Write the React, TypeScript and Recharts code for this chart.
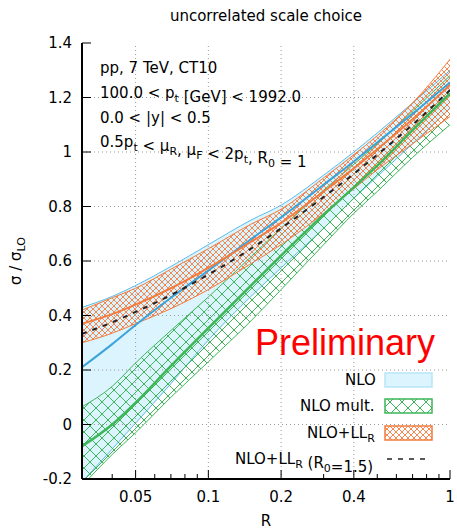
import React from 'react';
import { ComposedChart, Area, Line, XAxis, YAxis, ReferenceLine } from 'recharts';

// jet radius R (log axis)
const rValues = [0.03, 0.04, 0.05, 0.07, 0.1, 0.15, 0.2, 0.3, 0.4, 0.5, 0.7, 1.0];

// NLO
const nloLow = [-0.21, -0.09, 0.005, 0.15, 0.31, 0.47, 0.575, 0.72, 0.83, 0.91, 1.03, 1.16];
const nloCentral = [0.21, 0.295, 0.365, 0.465, 0.565, 0.68, 0.76, 0.88, 0.965, 1.035, 1.14, 1.255];
const nloHigh = [0.43, 0.47, 0.51, 0.58, 0.66, 0.75, 0.805, 0.915, 1.0, 1.07, 1.18, 1.3];

// NLO mult.
const multLow = [-0.225, -0.11, -0.03, 0.1, 0.23, 0.38, 0.495, 0.66, 0.775, 0.855, 0.98, 1.1];
const multCentral = [-0.08, 0.0, 0.08, 0.215, 0.354, 0.51, 0.62, 0.77, 0.87, 0.95, 1.08, 1.215];
const multHigh = [0.065, 0.14, 0.226, 0.345, 0.468, 0.615, 0.72, 0.86, 0.955, 1.03, 1.15, 1.28];

// NLO+LL_R
const llLow = [0.3, 0.335, 0.37, 0.425, 0.495, 0.59, 0.66, 0.775, 0.865, 0.935, 1.03, 1.13];
const llCentral = [0.37, 0.405, 0.44, 0.5, 0.575, 0.67, 0.74, 0.855, 0.94, 1.01, 1.12, 1.245];
const llHigh = [0.42, 0.465, 0.5, 0.57, 0.645, 0.735, 0.79, 0.905, 0.99, 1.06, 1.18, 1.34];

// NLO+LL_R (R0=1.5)
const llR0 = [0.333, 0.375, 0.413, 0.475, 0.55, 0.645, 0.72, 0.835, 0.92, 0.99, 1.1, 1.227];

const xTicks = [0.03, 0.04, 0.05, 0.06, 0.07, 0.08, 0.09, 0.1, 0.2, 0.3, 0.4, 0.5, 0.6, 0.7, 0.8, 0.9, 1];
const xMajor = [0.05, 0.1, 0.2, 0.4, 1];
const yTicks = [-0.2, 0, 0.2, 0.4, 0.6, 0.8, 1, 1.2, 1.4];
const yGrid = [0, 0.2, 0.4, 0.6, 0.8, 1, 1.2];

const data = rValues.map((r, i) => ({
  r,
  nloBand: [nloLow[i], nloHigh[i]],
  nlo: nloCentral[i],
  multBand: [multLow[i], multHigh[i]],
  mult: multCentral[i],
  llBand: [llLow[i], llHigh[i]],
  ll: llCentral[i],
  llR0: llR0[i],
}));

const FONT = '"DejaVu Sans", sans-serif';
const BLUE = '#3ba3dc';
const BLUE_EDGE = '#5cbbe8';
const BLUE_FILL = '#dcf4fd';
const GREEN = '#3db658';
const ORANGE = '#f47b3e';
const fmt = (v: number) => String(Number(v.toFixed(2)));

const BottomTick = (props: any) => {
  const { x, y, payload } = props;
  const major = xMajor.includes(payload.value);
  return (
    <g>
      <line x1={x} x2={x} y1={y} y2={y - (major ? 9 : 5)} stroke="#000" />
      {major && (
        <text x={x} y={y + 23} textAnchor="middle" fontFamily={FONT} fontSize={15} fill="#000">
          {fmt(payload.value)}
        </text>
      )}
    </g>
  );
};

const TopTick = (props: any) => {
  const { x, y, payload } = props;
  const major = xMajor.includes(payload.value);
  return <line x1={x} x2={x} y1={y} y2={y + (major ? 9 : 5)} stroke="#000" />;
};

const LeftTick = (props: any) => {
  const { x, y, payload } = props;
  return (
    <g>
      <line x1={x} x2={x + 9} y1={y} y2={y} stroke="#000" />
      <text x={x - 10} y={y + 5} textAnchor="end" fontFamily={FONT} fontSize={15} fill="#000">
        {fmt(payload.value)}
      </text>
    </g>
  );
};

const RightTick = (props: any) => {
  const { x, y } = props;
  return <line x1={x} x2={x - 9} y1={y} y2={y} stroke="#000" />;
};

const Sub = ({ children }: { children: React.ReactNode }) => (
  <tspan fontSize={11} dy={4}>{children}</tspan>
);
const Up = () => <tspan dy={-4}></tspan>;

const Patterns = () => (
  <svg width={0} height={0} style={{ position: 'absolute' }}>
    <defs>
      <pattern id="multHatch" patternUnits="userSpaceOnUse" width={12} height={12}>
        <path d="M0,0 L12,12 M12,0 L0,12" stroke={GREEN} strokeWidth={1} fill="none" />
      </pattern>
      <pattern id="llHatch" patternUnits="userSpaceOnUse" width={6} height={6}>
        <path d="M0,0 L6,6 M6,0 L0,6" stroke={ORANGE} strokeWidth={0.9} fill="none" />
      </pattern>
    </defs>
  </svg>
);

const legendY = [380, 406, 433, 459];

const Overlay = () => (
  <svg width={457} height={529} style={{ position: 'absolute', left: 0, top: 0, pointerEvents: 'none' }}>
    <g fontFamily={FONT} fontSize={15} fill="#000">
      <text x={266} y={21} textAnchor="middle">uncorrelated scale choice</text>
      <text x={266} y={526} textAnchor="middle">R</text>
      <text transform="translate(21,261) rotate(-90)" textAnchor="middle">
        σ / σ<Sub>LO</Sub>
      </text>

      <text x={100} y={73}>pp, 7 TeV, CT10</text>
      <text x={100} y={98}>
        100.0 &lt; p<Sub>t</Sub><Up /> [GeV] &lt; 1992.0
      </text>
      <text x={100} y={123}>0.0 &lt; |y| &lt; 0.5</text>
      <text x={100} y={147}>
        0.5p<Sub>t</Sub><Up /> &lt; μ<Sub>R</Sub><Up />, μ<Sub>F</Sub><Up /> &lt; 2p<Sub>t</Sub><Up />, R<Sub>0</Sub><Up /> = 1
      </text>

      <text x={435} y={355} textAnchor="end" fontFamily='"Liberation Sans", Arial, sans-serif' fontSize={36} fill="#ff0000">
        Preliminary
      </text>

      <text x={345} y={legendY[0] + 5}>NLO</text>
      <text x={300} y={legendY[1] + 5}>NLO mult.</text>
      <text x={307} y={legendY[2] + 5}>
        NLO+LL<Sub>R</Sub>
      </text>
      <text x={235} y={legendY[3] + 5}>
        NLO+LL<Sub>R</Sub><Up /> (R<Sub>0</Sub><Up />=1.5)
      </text>
    </g>
    <rect x={385} y={legendY[0] - 7} width={47} height={14} fill={BLUE_FILL} stroke="#b6e6f8" strokeWidth={1.5} />
    <rect x={385} y={legendY[1] - 7} width={47} height={14} fill="url(#multHatch)" stroke={GREEN} strokeWidth={1.5} />
    <rect x={385} y={legendY[2] - 7} width={47} height={14} fill="url(#llHatch)" stroke={ORANGE} strokeWidth={1.5} />
    <line x1={387} x2={428} y1={legendY[3]} y2={legendY[3]} stroke="#222" strokeWidth={1.5} strokeDasharray="5 6" />
  </svg>
);

export default function App() {
  return (
    <div style={{ position: 'absolute', left: 0, top: 0, width: 457, height: 529, background: '#fff' }}>
      <Patterns />
      <ComposedChart width={457} height={529} data={data} margin={{ top: 43, right: 7, bottom: 0, left: 0 }}>
        <XAxis
          dataKey="r"
          type="number"
          scale="log"
          domain={[0.03, 1]}
          allowDataOverflow
          ticks={xTicks}
          interval={0}
          height={50}
          tickSize={0}
          tickMargin={0}
          tickLine={false}
          tick={<BottomTick />}
          axisLine={{ stroke: '#000', strokeWidth: 2 }}
        />
        <XAxis
          xAxisId="top"
          orientation="top"
          dataKey="r"
          type="number"
          scale="log"
          domain={[0.03, 1]}
          allowDataOverflow
          ticks={xTicks}
          interval={0}
          height={0}
          tickSize={0}
          tickMargin={0}
          tickLine={false}
          tick={<TopTick />}
          axisLine={{ stroke: '#000', strokeWidth: 2 }}
        />
        <YAxis
          type="number"
          domain={[-0.2, 1.4]}
          allowDataOverflow
          ticks={yTicks}
          interval={0}
          width={82}
          tickSize={0}
          tickMargin={0}
          tickLine={false}
          tick={<LeftTick />}
          axisLine={{ stroke: '#000', strokeWidth: 2 }}
        />
        <YAxis
          yAxisId="right"
          orientation="right"
          type="number"
          domain={[-0.2, 1.4]}
          allowDataOverflow
          ticks={yTicks}
          interval={0}
          width={0}
          tickSize={0}
          tickMargin={0}
          tickLine={false}
          tick={<RightTick />}
          axisLine={{ stroke: '#000', strokeWidth: 2 }}
        />

        <Area dataKey="nloBand" type="monotone" fill={BLUE_FILL} fillOpacity={1} stroke={BLUE_EDGE} strokeWidth={1} isAnimationActive={false} dot={false} activeDot={false} />
        <Area dataKey="multBand" type="monotone" fill="url(#multHatch)" fillOpacity={1} stroke={GREEN} strokeWidth={1} isAnimationActive={false} dot={false} activeDot={false} />
        <Area dataKey="llBand" type="monotone" fill="url(#llHatch)" fillOpacity={1} stroke={ORANGE} strokeWidth={1} isAnimationActive={false} dot={false} activeDot={false} />

        {yGrid.map((v) => (
          <ReferenceLine key={`gy-${v}`} y={v} stroke="#9a9a9a" strokeDasharray="1 3" strokeWidth={1} />
        ))}
        {xMajor.slice(0, 4).map((v) => (
          <ReferenceLine key={`gx-${v}`} x={v} stroke="#9a9a9a" strokeDasharray="1 3" strokeWidth={1} />
        ))}

        <Line dataKey="nlo" type="monotone" stroke={BLUE} strokeWidth={2} dot={false} activeDot={false} isAnimationActive={false} />
        <Line dataKey="mult" type="monotone" stroke={GREEN} strokeWidth={2.5} dot={false} activeDot={false} isAnimationActive={false} />
        <Line dataKey="ll" type="monotone" stroke={ORANGE} strokeWidth={2} dot={false} activeDot={false} isAnimationActive={false} />
        <Line dataKey="llR0" type="monotone" stroke="#222" strokeWidth={2} strokeDasharray="5 6" dot={false} activeDot={false} isAnimationActive={false} />
      </ComposedChart>
      <Overlay />
    </div>
  );
}
